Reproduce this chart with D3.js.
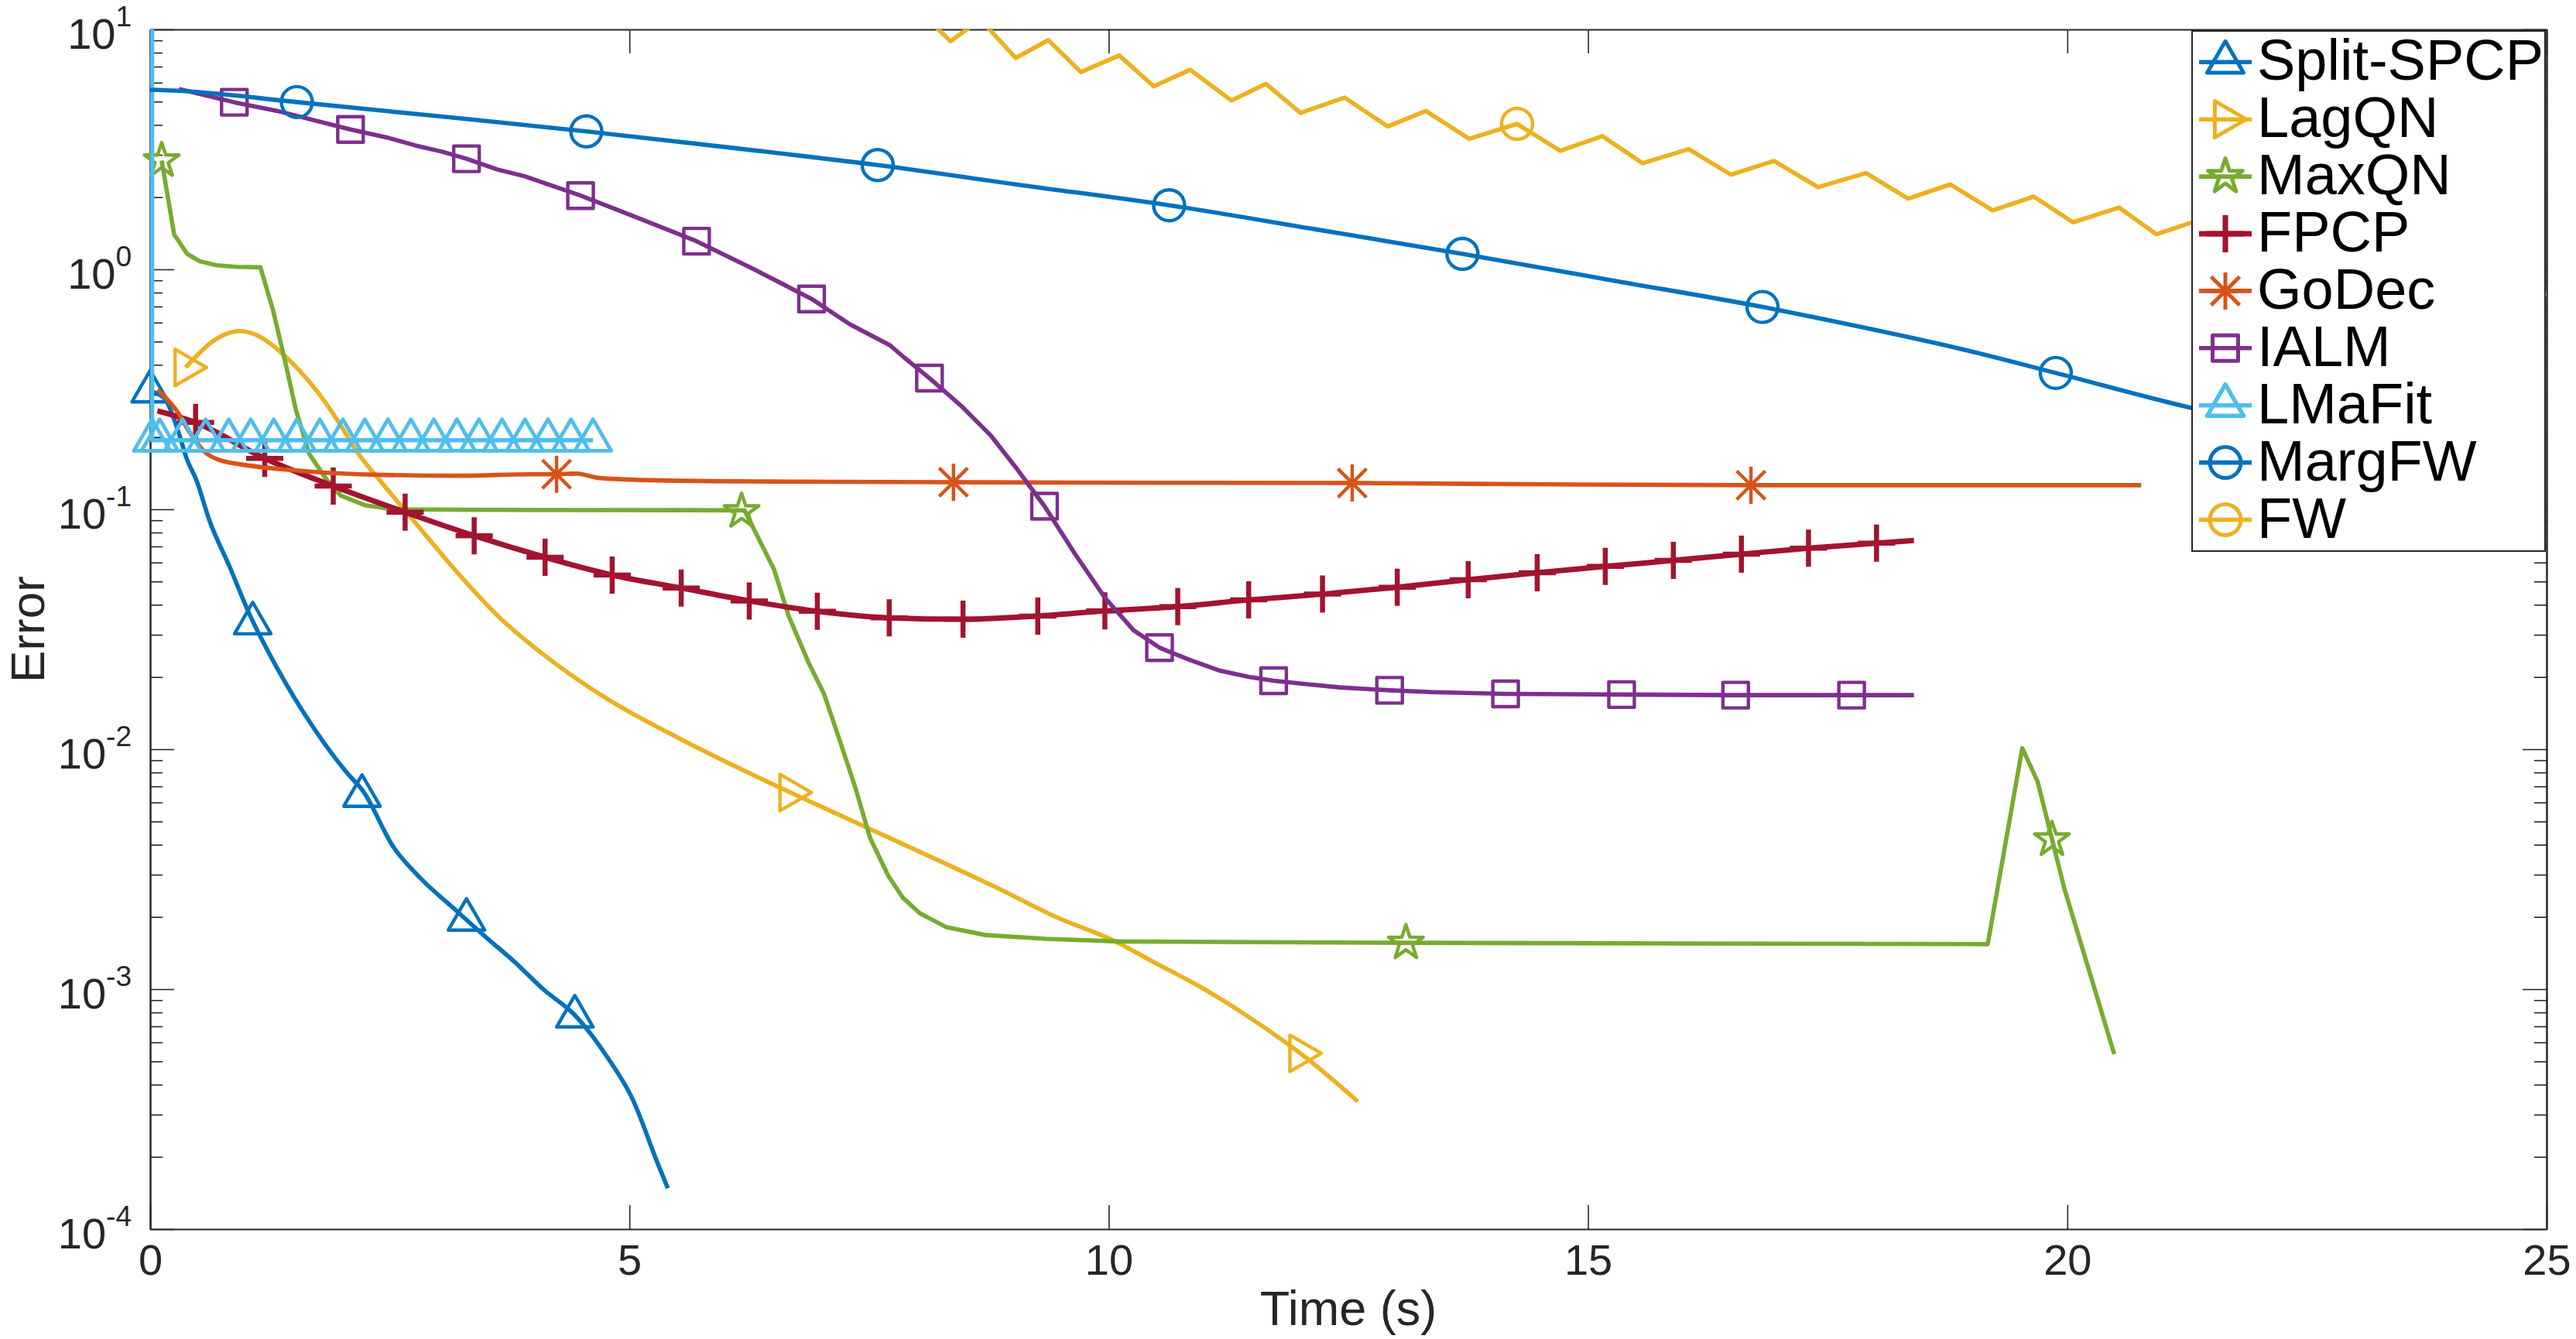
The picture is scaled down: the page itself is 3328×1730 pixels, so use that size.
<!DOCTYPE html>
<html><head><meta charset="utf-8">
<script src="https://cdn.jsdelivr.net/npm/d3@7"></script>
<style>
html,body{margin:0;padding:0;background:#fff;}
svg{display:block;}
text{font-family:"Liberation Sans",Arial,Helvetica,sans-serif;}
</style></head><body>
<svg id="chart" width="3328" height="1730"></svg>
<script>
// ---------------- data ----------------
const seriesNames = ["Split-SPCP","LagQN","MaxQN","FPCP","GoDec","IALM","LMaFit","MargFW","FW"];
const seriesColors = ["#0072BD","#EDB120","#77AC30","#A2142F","#D95319","#7E2F8E","#4DBEEE","#0072BD","#EDB120"];
const seriesMarkers = ["triUp","triRight","star","plus","asterisk","square","triUp","circle","circle"];

const xTicks = [0,5,10,15,20,25];
const yTicks = [1e-4,1e-3,1e-2,1e-1,1e0,1e1];

// Split-SPCP
const splitT = [0.00,0.15,0.29,0.385,0.48,0.62,0.83,1.03,1.33,1.71,2.05,2.22,2.54,2.82,3.19,3.50,3.80,4.10,4.43,4.77,5.03,5.29,5.40];
const splitV = [0.31,0.29,0.213,0.161,0.133,0.0895,0.0575,0.037,0.0216,0.0122,0.0080,0.0067,0.0039,0.0029,0.00213,0.00165,0.0013,0.00100,0.00078,0.00052,0.00035,0.00019,0.000148];
const splitMT = [0.00,1.07,2.21,3.30,4.43];
const splitMV = [0.31,0.0335,0.0064,0.00195,0.00077];

// LagQN
const lagT = [0.37,0.73,0.92,1.12,1.37,1.53,1.745,1.96,2.17,2.39,2.71,3.25,3.61,4.15,4.77,5.5,6.51,6.68,7.49,8.21,8.83,9.45,10.07,10.48,10.94,11.41,11.87,12.0,12.6];
const lagV = [0.39,0.524,0.553,0.53,0.449,0.389,0.309,0.233,0.171,0.133,0.0935,0.052,0.0365,0.024,0.0162,0.0112,0.0071,0.0066,0.00469,0.00346,0.00265,0.0020,0.00158,0.00129,0.00103,0.00079,0.00059,0.00054,0.00034];
const lagMT = [0.37,6.68,12.0];
const lagMV = [0.39,0.0066,0.00054];

// MaxQN
const maxT = [0.12,0.25,0.385,0.52,0.695,0.9,1.15,1.28,1.41,1.52,1.66,1.84,1.99,2.24,2.54,3.5,4.5,5.5,6.2,6.51,6.66,6.87,7.03,7.2,7.36,7.51,7.70,7.85,8.03,8.31,8.72,9.35,10.11,13.1,16.0,19.17,19.53,19.69,19.97,20.49];
const maxV = [2.84,1.40,1.16,1.08,1.04,1.025,1.02,0.68,0.41,0.26,0.17,0.133,0.114,0.104,0.100,0.0995,0.0993,0.0992,0.099,0.056,0.036,0.0229,0.017,0.0107,0.00685,0.00427,0.00297,0.00241,0.00207,0.00181,0.00168,0.00162,0.00158,0.00156,0.00155,0.00154,0.0101,0.00734,0.00262,0.000536];
const maxMT = [0.12,6.17,13.1,19.84];
const maxMV = [2.84,0.098,0.00156,0.0042];

// FPCP
const fpcpT = [0.075,0.474,1.195,1.91,2.66,3.38,4.12,4.82,5.54,6.25,6.96,7.71,8.48,9.26,9.96,10.72,11.46,12.23,13.01,13.75,14.47,15.18,15.89,16.60,17.30,18.01,18.40];
const fpcpV = [0.257,0.23,0.163,0.125,0.0973,0.0776,0.0631,0.0532,0.047,0.0415,0.0376,0.0353,0.0348,0.0359,0.0377,0.0393,0.0419,0.0443,0.0473,0.0509,0.0544,0.0578,0.0612,0.065,0.0689,0.0723,0.0741];
const fpcpMT = [0.474,1.195,1.91,2.66,3.38,4.12,4.82,5.54,6.25,6.96,7.71,8.48,9.26,9.96,10.72,11.46,12.23,13.01,13.75,14.47,15.18,15.89,16.60,17.30,18.01];
const fpcpMV = [0.23,0.163,0.125,0.0973,0.0776,0.0631,0.0532,0.047,0.0415,0.0376,0.0353,0.0348,0.0359,0.0377,0.0393,0.0419,0.0443,0.0473,0.0509,0.0544,0.0578,0.0612,0.065,0.0689,0.0723];

// GoDec
const godecT = [0.078,0.29,0.42,0.58,0.73,0.94,1.45,2.17,3.25,3.97,4.24,4.44,4.69,5.3,6.5,8.38,10.5,12.54,14.6,16.7,18.7,20.77];
const godecV = [0.315,0.253,0.207,0.172,0.16,0.154,0.146,0.14,0.138,0.14,0.14,0.141,0.135,0.132,0.1305,0.1297,0.129,0.1287,0.127,0.126,0.126,0.126];
const godecMT = [4.24,8.38,12.54,16.70];
const godecMV = [0.14,0.1297,0.1287,0.126];

// IALM
const ialmT = [0.30,0.878,1.32,2.09,2.5,2.76,3.05,3.30,3.62,3.91,4.49,5.1,5.70,6.3,6.9,7.3,7.72,7.87,8.13,8.46,8.77,9.05,9.33,9.65,9.96,10.26,10.53,10.84,11.15,11.47,11.72,12.05,12.41,12.93,13.38,14.14,15.35,16.54,17.75,18.4];
const ialmV = [5.65,4.97,4.58,3.83,3.52,3.29,3.09,2.89,2.61,2.44,2.03,1.63,1.31,1.0,0.753,0.59,0.482,0.428,0.352,0.27,0.203,0.146,0.103,0.065,0.0428,0.0313,0.0265,0.0236,0.0213,0.0200,0.0193,0.0187,0.0181,0.0176,0.0173,0.0170,0.0169,0.0168,0.0168,0.0168];
const ialmMT = [0.878,2.09,3.30,4.49,5.70,6.9,8.13,9.33,10.53,11.72,12.93,14.14,15.35,16.54,17.75];
const ialmMV = [4.97,3.83,2.89,2.03,1.31,0.753,0.352,0.103,0.0265,0.0193,0.0176,0.0170,0.0169,0.0168,0.0168];

// LMaFit
const lmaT = [0.02,0.02,0.10,0.34,0.58,0.82,1.05,1.29,1.53,1.77,2.01,2.24,2.48,2.72,2.96,3.20,3.43,3.67,3.91,4.15,4.39,4.62];
const lmaV = [100,0.194,0.194,0.194,0.194,0.194,0.194,0.194,0.194,0.194,0.194,0.194,0.194,0.194,0.194,0.194,0.194,0.194,0.194,0.194,0.194,0.194];
const lmaMT = [0.02,0.10,0.34,0.58,0.82,1.05,1.29,1.53,1.77,2.01,2.24,2.48,2.72,2.96,3.20,3.43,3.67,3.91,4.15,4.39,4.62];
const lmaMV = [0.194,0.194,0.194,0.194,0.194,0.194,0.194,0.194,0.194,0.194,0.194,0.194,0.194,0.194,0.194,0.194,0.194,0.194,0.194,0.194,0.194];

// MargFW
const margT = [0,0.3,1.53,3.0,4.55,6.1,7.59,9.1,10.63,12.15,13.69,15.25,16.82,17.85,18.86,19.88,21.2,23.0,25.0];
const margV = [5.6,5.55,4.98,4.35,3.76,3.2,2.72,2.24,1.85,1.47,1.16,0.90,0.697,0.575,0.469,0.37,0.27,0.19,0.125];
const margMT = [1.53,4.55,7.59,10.63,13.69,16.82,19.88];
const margMV = [4.98,3.76,2.72,1.85,1.16,0.697,0.37];

// FW
const fwT = [7.96,8.35,8.66,9.03,9.37,9.71,10.11,10.47,10.85,11.28,11.64,12.0,12.46,12.91,13.31,13.76,14.26,14.71,15.15,15.57,16.05,16.49,16.94,17.4,17.9,18.34,18.78,19.22,19.65,20.06,20.54,20.93,21.4,21.8,22.3,22.7,23.2,23.6,24.1,24.5,25.0];
const fwV = [12.6,8.93,11.0,7.6,9.03,6.64,7.79,5.79,6.79,5.05,5.93,4.49,5.2,3.94,4.57,3.5,4.04,3.12,3.59,2.77,3.17,2.48,2.83,2.2,2.52,1.97,2.26,1.76,2.01,1.57,1.81,1.40,1.62,1.24,1.36,1.04,1.14,0.87,0.95,0.72,0.79];
const fwMT = [14.26];
const fwMV = [4.04];

const lineT = [splitT,lagT,maxT,fpcpT,godecT,ialmT,lmaT,margT,fwT];
const lineV = [splitV,lagV,maxV,fpcpV,godecV,ialmV,lmaV,margV,fwV];
const markT = [splitMT,lagMT,maxMT,fpcpMT,godecMT,ialmMT,lmaMT,margMT,fwMT];
const markV = [splitMV,lagMV,maxMV,fpcpMV,godecMV,ialmMV,lmaMV,margMV,fwMV];
const smoothSeries = [true,true,false,true,true,false,false,true,false];

// ---------------- layout ----------------
const W = 3328, H = 1730;
const M = {left:194, right:3290, top:38, bottom:1588};
const axisColor = "#262626";
const x = d3.scaleLinear().domain([0,25]).range([M.left, M.right]);
const y = d3.scaleLog().domain([1e-4,1e1]).range([M.bottom, M.top]);

const svg = d3.select("#chart");
svg.append("rect").attr("width",W).attr("height",H).attr("fill","#fff");
svg.append("defs").append("clipPath").attr("id","plotclip")
  .append("rect").attr("x",M.left).attr("y",M.top).attr("width",M.right-M.left).attr("height",M.bottom-M.top);

function styleAxis(g){
  g.attr("font-size",56).attr("font-family",'"Liberation Sans",Arial,sans-serif');
  g.selectAll("path.domain").attr("stroke",axisColor).attr("stroke-width",2);
  g.selectAll(".tick line").attr("stroke",axisColor).attr("stroke-width",1.6);
  g.selectAll(".tick text").attr("fill",axisColor);
}
const yMinor = y.ticks().filter(v => !yTicks.some(m => Math.abs(m-v)/m < 1e-9));

// left axis
svg.append("g").attr("transform",`translate(${M.left},0)`)
  .call(d3.axisLeft(y).tickValues(yTicks).tickSizeInner(-31).tickSizeOuter(0).tickFormat(()=>"")).call(styleAxis);
svg.append("g").attr("transform",`translate(${M.left},0)`)
  .call(d3.axisLeft(y).tickValues(yMinor).tickSizeInner(-16).tickSizeOuter(0).tickFormat(()=>"")).call(styleAxis);
// right axis
svg.append("g").attr("transform",`translate(${M.right},0)`)
  .call(d3.axisRight(y).tickValues(yTicks).tickSizeInner(-31).tickSizeOuter(0).tickFormat(()=>"")).call(styleAxis);
svg.append("g").attr("transform",`translate(${M.right},0)`)
  .call(d3.axisRight(y).tickValues(yMinor).tickSizeInner(-16).tickSizeOuter(0).tickFormat(()=>"")).call(styleAxis);
// bottom axis
svg.append("g").attr("transform",`translate(0,${M.bottom})`)
  .call(d3.axisBottom(x).tickValues(xTicks).tickSizeInner(-31).tickSizeOuter(0).tickPadding(19).tickFormat(d3.format("d"))).call(styleAxis);
// top axis
svg.append("g").attr("transform",`translate(0,${M.top})`)
  .call(d3.axisTop(x).tickValues(xTicks).tickSizeInner(-31).tickSizeOuter(0).tickFormat(()=>"")).call(styleAxis);

// y tick labels 10^k
svg.append("g").selectAll("text").data(yTicks).join("text")
  .attr("x",170).attr("y",d=>y(d)+25).attr("text-anchor","end")
  .attr("font-size",56).attr("fill",axisColor)
  .each(function(d){
    const e = Math.round(Math.log10(d));
    const t = d3.select(this);
    t.append("tspan").text("10");
    t.append("tspan").attr("dy",-29).attr("font-size",37).text(String(e));
  });

// axis labels
svg.append("text").attr("x",(M.left+M.right)/2).attr("y",1712).attr("text-anchor","middle")
  .attr("font-size",63).attr("fill",axisColor).text("Time (s)");
svg.append("text").attr("transform",`translate(57,${(M.top+M.bottom)/2}) rotate(-90)`).attr("text-anchor","middle")
  .attr("font-size",62).attr("fill",axisColor).text("Error");

// ---------------- markers ----------------
function starPath(R){
  const r = R*0.382; let p = "";
  for(let i=0;i<10;i++){
    const a = -Math.PI/2 + i*Math.PI/5;
    const rr = i%2===0 ? R : r;
    p += (i===0?"M":"L") + (rr*Math.cos(a)).toFixed(2) + "," + (rr*Math.sin(a)).toFixed(2);
  }
  return p+"Z";
}
const markerPaths = {
  triUp: "M0,-27L23.5,13.6L-23.5,13.6Z",
  triRight: "M27,0L-13.6,-23.5L-13.6,23.5Z",
  star: starPath(23.5),
  plus: "M-24,0H24M0,-24V24",
  asterisk: "M-24,0H24M0,-24V24M-18.4,-18.4L18.4,18.4M-18.4,18.4L18.4,-18.4",
  square: "M-16.5,-16.5H16.5V16.5H-16.5Z",
  circle: "M20,0A20,20 0 1,1 -20,0A20,20 0 1,1 20,0Z"
};
function markerStroke(i){ return i===3 ? 6.5 : (i===6 ? 4.8 : 4.4); }
function lineWidth(i){ return i===3 ? 7 : 5.6; }

const lineGen = d3.line().x(d=>x(d[0])).y(d=>y(d[1]));
const smoothGen = d3.line().x(d=>x(d[0])).y(d=>y(d[1])).curve(d3.curveMonotoneX);
const plot = svg.append("g");
seriesNames.forEach((name,i)=>{
  const g = plot.append("g").attr("class","series");
  const pts = lineT[i].map((t,k)=>[t,lineV[i][k]]);
  g.append("path").attr("d",(smoothSeries[i]?smoothGen:lineGen)(pts)).attr("clip-path","url(#plotclip)")
    .attr("fill","none").attr("stroke",seriesColors[i]).attr("stroke-width",lineWidth(i))
    .attr("stroke-linejoin","round").attr("stroke-linecap","butt");
  const mpts = markT[i].map((t,k)=>[t,markV[i][k]]);
  g.selectAll("path.mk").data(mpts).join("path").attr("class","mk")
    .attr("transform",d=>`translate(${x(d[0])},${y(d[1])})`)
    .attr("d",markerPaths[seriesMarkers[i]])
    .attr("fill","none").attr("stroke",seriesColors[i]).attr("stroke-width",markerStroke(i))
    .attr("stroke-linejoin","round");
});

// ---------------- legend ----------------
const L = {x:2832, y:40, w:456, h:672, row0:80.3, step:73.9};
const leg = svg.append("g");
leg.append("rect").attr("x",L.x).attr("y",L.y).attr("width",L.w).attr("height",L.h)
  .attr("fill","#fff").attr("stroke",axisColor).attr("stroke-width",2);
seriesNames.forEach((name,i)=>{
  const cy = L.row0 + i*L.step;
  leg.append("line").attr("x1",2841).attr("x2",2909).attr("y1",cy).attr("y2",cy)
    .attr("stroke",seriesColors[i]).attr("stroke-width",lineWidth(i));
  leg.append("path").attr("transform",`translate(2875,${cy})`).attr("d",markerPaths[seriesMarkers[i]])
    .attr("fill","none").attr("stroke",seriesColors[i]).attr("stroke-width",markerStroke(i)+0.6).attr("stroke-linejoin","round");
  leg.append("text").attr("x",2916).attr("y",cy+23).attr("font-size",74).attr("fill","#000").text(name);
});
</script>
</body></html>
